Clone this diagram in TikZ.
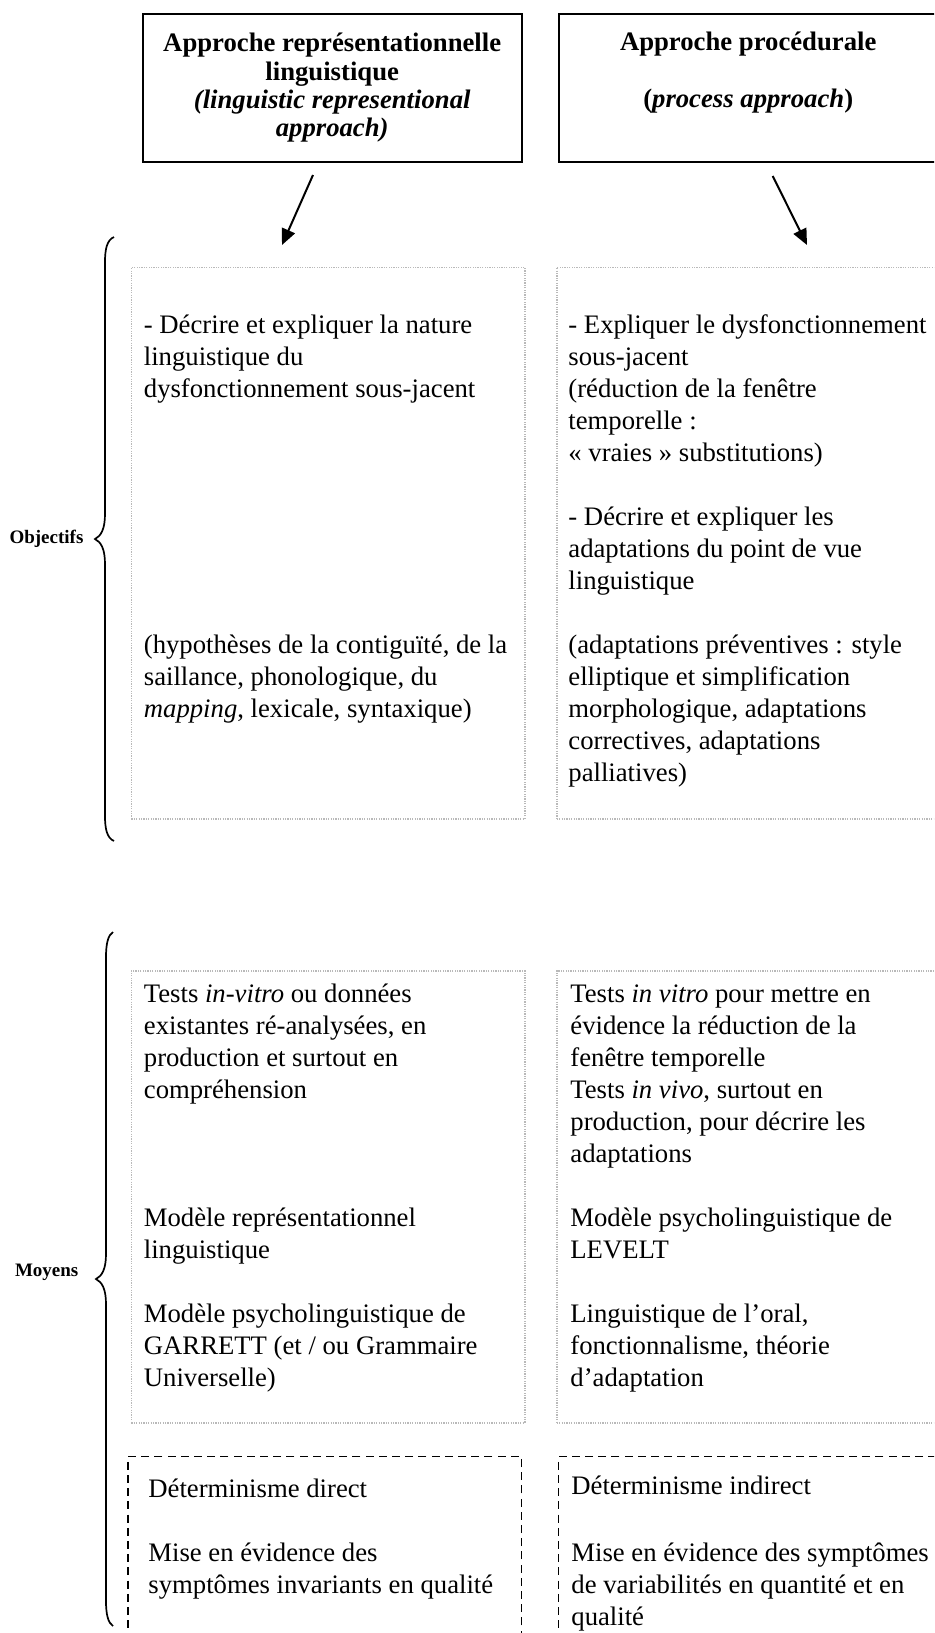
\documentclass[tikz,border=0pt]{standalone}
\usepackage{fontspec}
\setmainfont{Liberation Serif}
\usetikzlibrary{arrows.meta, positioning}

\begin{document}
\begin{tikzpicture}[
    x=0.5pt, y=-0.5pt,
    header/.style={rectangle, draw, line width=1pt, minimum width=189.5pt, minimum height=74pt, inner sep=0pt, align=center, font={\bfseries\fontsize{13.35pt}{14.15pt}\selectfont}},
    cell/.style={rectangle, draw=gray!55, line width=0.75pt, dash pattern=on 0.6pt off 0.6pt, anchor=north west, inner sep=0pt, minimum width=196.7pt},
    dcell/.style={rectangle, draw, line width=0.6pt, dash pattern=on 4pt off 2.6pt, anchor=north west, inner sep=0pt, minimum width=196.8pt, minimum height=112pt},
    txt/.style={anchor=north west, inner sep=0pt, align=left, font={\fontsize{13.35pt}{16pt}\selectfont}},
    side/.style={inner sep=0pt, font={\bfseries\fontsize{9.5pt}{11pt}\selectfont}},
    brace/.style={line width=0.85pt},
    arrow/.style={-{Triangle[length=8pt, width=7pt]}, line width=1pt}
]
    \useasboundingbox (0,0) rectangle (934,1633);
    \clip (0,0) rectangle (934,1633);

    % Approaches
    \node[header] (repr) at (332.2,88) {Approche représentationnelle\\linguistique\\\itshape (linguistic representional\\\itshape approach)};
    \node[header] (proc) at (748.2,88) {Approche procédurale\\\strut\\(\textit{process approach})\\\strut};

    % Cells
    \node[cell, minimum height=275.8pt] (objL) at (130.7,266.7) {};
    \node[cell, minimum height=275.8pt] (objR) at (556,266.7) {};
    \node[cell, minimum height=226pt] (moyL) at (130.7,970) {};
    \node[cell, minimum height=226pt] (moyR) at (556,970) {};
    \node[dcell] (detL) at (127.3,1456) {};
    \node[dcell] (detR) at (558,1456) {};

    % Connections
    \coordinate (reprTail) at (313,175);
    \coordinate (reprTip) at (282,245);
    \coordinate (procTail) at (772.7,176);
    \coordinate (procTip) at (807,245);
    \draw[arrow] (reprTail) -- (reprTip);
    \draw[arrow] (procTail) -- (procTip);

    % Objectifs
    \node[txt] (objLa) at (143.5,310.6) {\strut - Décrire et expliquer la nature\\linguistique du\\dysfonctionnement sous-jacent};
    \node[txt] (objLb) at (143.5,630.6) {\strut (hypothèses de la contiguïté, de la\\saillance, phonologique, du\\\textit{mapping}, lexicale, syntaxique)};
    \node[txt] (objRa) at (568,310.6) {\strut - Expliquer le dysfonctionnement\\sous-jacent\\(réduction de la fenêtre\\temporelle~:\\«~vraies~» substitutions)};
    \node[txt] (objRb) at (568,502.6) {\strut - Décrire et expliquer les\\adaptations du point de vue\\linguistique};
    \node[txt] (objRc) at (568,630.6) {\strut (adaptations préventives~: style\\elliptique et simplification\\morphologique, adaptations\\correctives, adaptations\\palliatives)};

    % Moyens
    \node[txt] (moyLa) at (143.5,979.3) {\strut Tests \textit{in-vitro} ou données\\existantes ré-analysées, en\\production et surtout en\\compréhension};
    \node[txt] (moyLb) at (143.5,1203.3) {\strut Modèle représentationnel\\linguistique};
    \node[txt] (moyLc) at (143.5,1299.3) {\strut Modèle psycholinguistique de\\GARRETT (et / ou Grammaire\\Universelle)};
    \node[txt] (moyRa) at (570,979.3) {\strut Tests \textit{in vitro} pour mettre en\\évidence la réduction de la\\fenêtre temporelle\\Tests \textit{in vivo}, surtout en\\production, pour décrire les\\adaptations};
    \node[txt] (moyRb) at (570,1203.3) {\strut Modèle psycholinguistique de\\LEVELT};
    \node[txt] (moyRc) at (570,1299.3) {\strut Linguistique de l’oral,\\fonctionnalisme, théorie\\d’adaptation};

    % Determinisme
    \node[txt] (detLa) at (148,1474.6) {\strut Déterminisme direct};
    \node[txt] (detLb) at (148,1538.6) {\strut Mise en évidence des\\symptômes invariants en qualité};
    \node[txt] (detRa) at (571,1472) {\strut Déterminisme indirect};
    \node[txt] (detRb) at (571,1538.6) {\strut Mise en évidence des symptômes\\de variabilités en quantité et en\\qualité};

    % Braces
    \node[side] (objectifs) at (46.5,539) {Objectifs};
    \node[side] (moyens) at (46.7,1272) {Moyens};
    \draw[brace] (114,237) .. controls (107,240) and (105,249) .. (105,262) -- (105,514)
        .. controls (105,529) and (101,536) .. (95,539) .. controls (101,542) and (105,549) .. (105,564)
        -- (105,816) .. controls (105,829) and (107,838) .. (114,841);
    \draw[brace] (113,932) .. controls (108,935) and (106,944) .. (106,957) -- (106,1254)
        .. controls (106,1269) and (102,1276) .. (96,1279) .. controls (102,1282) and (106,1289) .. (106,1304)
        -- (106,1601) .. controls (106,1614) and (108,1623) .. (113,1626);

\end{tikzpicture}
\end{document}
